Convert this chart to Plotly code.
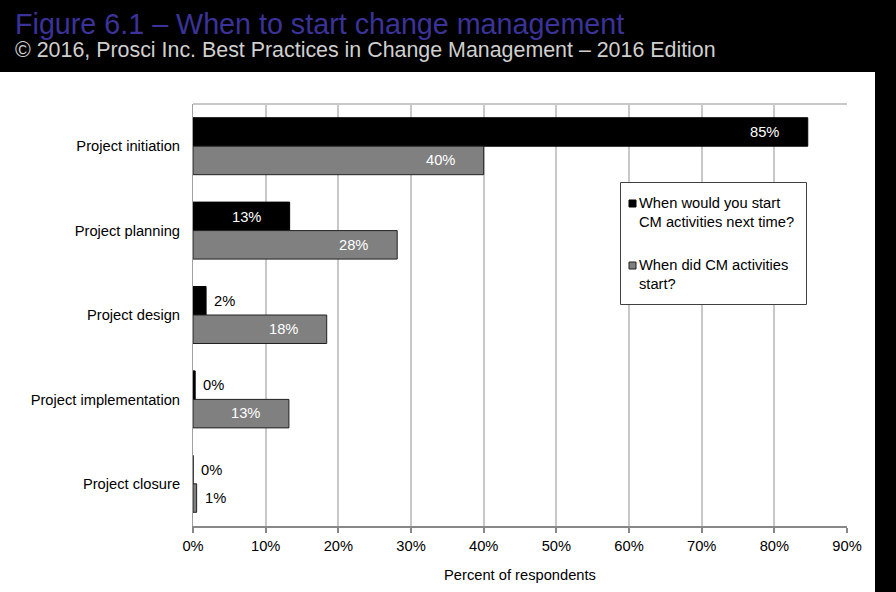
import plotly.graph_objects as go

categories = ["Project initiation", "Project planning", "Project design",
              "Project implementation", "Project closure"]
next_time = [84.6, 13.3, 1.8, 0.3, 0.0]
did_start = [40.0, 28.1, 18.4, 13.2, 0.5]
next_labels = ["85%", "13%", "2%", "0%", "0%"]
did_labels = ["40%", "28%", "18%", "13%", "1%"]
series_names = ["When would you start<br>CM activities next time?",
                "When did CM activities<br>start?"]
x_ticks = [0, 10, 20, 30, 40, 50, 60, 70, 80, 90]
x_tick_labels = ["0%", "10%", "20%", "30%", "40%", "50%", "60%", "70%", "80%", "90%"]

W, H = 896, 592
L, R, T, B = 193, 49, 104, 66
PW, PH = W - L - R, H - T - B

def px(xp):
    return (xp - L) / PW

def py(yp):
    return (H - B - yp) / PH

FONT = "Liberation Sans, Arial, sans-serif"
FS = 14.7
BLACK = "#000000"
GRAY = "#808080"

fig = go.Figure()
fig.add_trace(go.Bar(y=categories, x=next_time, orientation="h", name="next",
                     marker=dict(color=BLACK, line=dict(color=BLACK, width=1)),
                     showlegend=False, hoverinfo="skip"))
fig.add_trace(go.Bar(y=categories, x=did_start, orientation="h", name="did",
                     marker=dict(color=GRAY, line=dict(color="#202020", width=1)),
                     showlegend=False, hoverinfo="skip"))

annotations = []
bar_half = 14
for vals, labs, shift in [(next_time, next_labels, bar_half), (did_start, did_labels, -bar_half)]:
    for cat, v, lab in zip(categories, vals, labs):
        inside = v >= 5
        annotations.append(dict(
            x=v, y=cat, xref="x", yref="y", text=lab, showarrow=False,
            xanchor="right" if inside else "left",
            xshift=-27 if inside else 6, yshift=shift,
            font=dict(family=FONT, size=FS, color="white" if inside else "black")))

# Title and subtitle
annotations.append(dict(x=px(13), y=py(24), xref="paper", yref="paper",
                        text="Figure 6.1 – When to start change management",
                        showarrow=False, xanchor="left", yanchor="middle",
                        font=dict(family=FONT, size=28.7, color="#3b3399")))
annotations.append(dict(x=px(13), y=py(50), xref="paper", yref="paper",
                        text="© 2016, Prosci Inc. Best Practices in Change Management – 2016 Edition",
                        showarrow=False, xanchor="left", yanchor="middle",
                        font=dict(family=FONT, size=21.4, color="#cfcfcf")))

# Manual legend text
for name, yc in zip(series_names, [212, 274]):
    annotations.append(dict(x=px(637), y=py(yc), xref="paper", yref="paper",
                            text=name, showarrow=False, xanchor="left", yanchor="middle",
                            align="left", font=dict(family=FONT, size=FS, color="black")))

shapes = [
    # white panel
    dict(type="rect", xref="paper", yref="paper", x0=px(0), x1=px(875), y0=py(H), y1=py(72),
         fillcolor="white", line=dict(width=0), layer="below"),
    # top border of plot area
    dict(type="line", xref="paper", yref="paper", x0=0, x1=1, y0=1, y1=1,
         line=dict(color="#c8c8c8", width=2), layer="below"),
    # legend box
    dict(type="rect", xref="paper", yref="paper", x0=px(620.5), x1=px(806.5), y0=py(304.5), y1=py(182.5),
         fillcolor="white", line=dict(color="#404040", width=1), layer="above"),
    # legend markers
    dict(type="rect", xref="paper", yref="paper", x0=px(629), x1=px(636), y0=py(207), y1=py(200),
         fillcolor=BLACK, line=dict(color=BLACK, width=1), layer="above"),
    dict(type="rect", xref="paper", yref="paper", x0=px(629), x1=px(636), y0=py(269), y1=py(262),
         fillcolor=GRAY, line=dict(color="#202020", width=1), layer="above"),
]

fig.update_layout(
    width=W, height=H,
    margin=dict(l=L, r=R, t=T, b=B, pad=0),
    paper_bgcolor="black", plot_bgcolor="white",
    barmode="group", bargap=0.325, bargroupgap=0,
    font=dict(family=FONT, size=FS, color="black"),
    annotations=annotations, shapes=shapes, showlegend=False,
    xaxis=dict(range=[0, 90], tickvals=x_ticks, ticktext=x_tick_labels,
               showgrid=True, gridcolor="#c8c8c8", gridwidth=2,
               showline=True, linecolor="#888888", linewidth=2,
               ticks="outside", ticklen=5, tickcolor="#888888", tickwidth=2,
               tickfont=dict(family=FONT, size=FS, color="black"),
               title=dict(text="Percent of respondents", standoff=17,
                          font=dict(family=FONT, size=FS, color="black")),
               zeroline=False, fixedrange=True),
    yaxis=dict(autorange="reversed", showgrid=False, showline=True,
               linecolor="#a0a0a0", linewidth=1, ticks="", ticklabelstandoff=9,
               tickfont=dict(family=FONT, size=FS, color="black"), fixedrange=True),
)

fig.write_html("out.html", config={"displayModeBar": False},
               post_script="document.body.style.margin='0';document.body.style.background='black';")
